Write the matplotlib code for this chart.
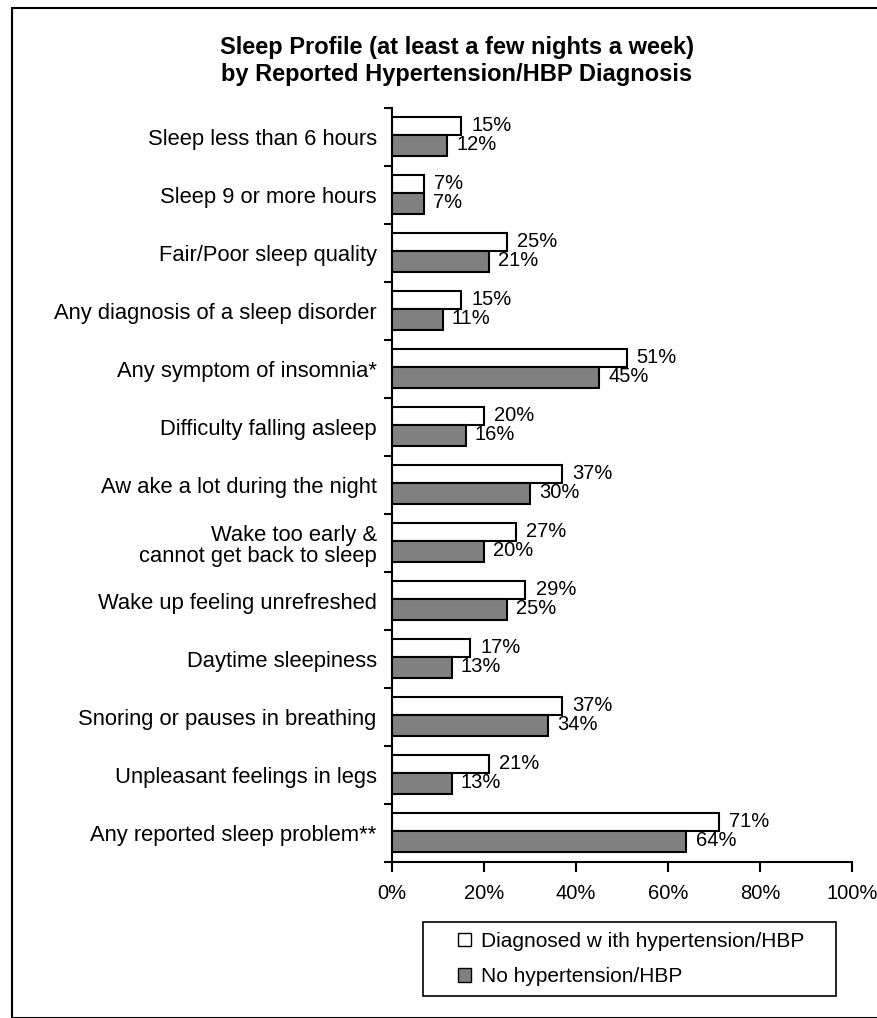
import matplotlib.pyplot as plt
import matplotlib.patches as mpatches
import numpy as np

plt.rcParams['font.family'] = ['Liberation Sans', 'DejaVu Sans']

categories = ['Sleep less than 6 hours', 'Sleep 9 or more hours', 'Fair/Poor sleep quality',
              'Any diagnosis of a sleep disorder', 'Any symptom of insomnia*',
              'Difficulty falling asleep', 'Aw ake a lot during the night',
              'Wake too early &\ncannot get back to sleep', 'Wake up feeling unrefreshed',
              'Daytime sleepiness', 'Snoring or pauses in breathing',
              'Unpleasant feelings in legs', 'Any reported sleep problem**']
hbp = [15, 7, 25, 15, 51, 20, 37, 27, 29, 17, 37, 21, 71]
no_hbp = [12, 7, 21, 11, 45, 16, 30, 20, 25, 13, 34, 13, 64]
xticks = [0, 20, 40, 60, 80, 100]

W, H = 877, 1018
fig = plt.figure(figsize=(W / 100, H / 100), dpi=100)
ax = fig.add_axes([392/W, 156/H, 460/W, 754/H])

y = np.arange(len(categories))
ax.barh(y - 0.19, hbp, height=0.32, color='white', edgecolor='black', linewidth=1.5)
ax.barh(y + 0.15, no_hbp, height=0.36, color='#808080', edgecolor='black', linewidth=1.5)

for i in range(len(categories)):
    ax.text(hbp[i] + 2.2, y[i] - 0.2, f'{hbp[i]}%', va='center', ha='left', fontsize=14.5)
    ax.text(no_hbp[i] + 2.0, y[i] + 0.13, f'{no_hbp[i]}%', va='center', ha='left', fontsize=14.5)

ax.set_xlim(0, 100)
ax.set_ylim(len(categories) - 0.5, -0.5)
ax.set_xticks(xticks)
ax.set_xticklabels([f'{t}%' for t in xticks], fontsize=14.5)
ax.set_yticks(np.arange(len(categories) + 1) - 0.5)
ax.set_yticklabels([])
ax.set_yticks(y, minor=True)
ax.set_yticklabels(categories, minor=True, fontsize=15.8, ha='right', linespacing=1.05)
ax.tick_params(axis='y', which='minor', length=0, pad=11)
ax.tick_params(axis='y', which='major', length=6, width=1.5, direction='out')
ax.tick_params(axis='x', length=7, width=1.5, direction='out', pad=9)
for s in ['top', 'right']:
    ax.spines[s].set_visible(False)
for s in ['left', 'bottom']:
    ax.spines[s].set_linewidth(1.5)

fig.text(457/W, 1 - 61/H, 'Sleep Profile (at least a few nights a week)\nby Reported Hypertension/HBP Diagnosis',
         ha='center', va='center', fontsize=17, fontweight='bold', linespacing=1.25)

# legend (frame drawn separately to match the wide padding)
handles = [mpatches.Patch(facecolor='white', edgecolor='black', label='Diagnosed w ith hypertension/HBP'),
           mpatches.Patch(facecolor='#808080', edgecolor='black', label='No hypertension/HBP')]
fig.legend(handles=handles, loc='center left', bbox_to_anchor=(458/W, 1 - 959/H),
           fontsize=15, frameon=False, handlelength=0.6, handleheight=0.6,
           handletextpad=0.5, labelspacing=0.8, borderpad=0, borderaxespad=0)
fig.patches.append(mpatches.Rectangle((423/W, 1 - 996/H), 413/W, 74/H, transform=fig.transFigure,
                                      fill=False, edgecolor='black', linewidth=1.2))

fig.patches.append(mpatches.Rectangle((12/W, 0), 1, 1 - 8/H, transform=fig.transFigure,
                                      fill=False, edgecolor='black', linewidth=1.5))

fig.savefig('out.png', dpi=100)
